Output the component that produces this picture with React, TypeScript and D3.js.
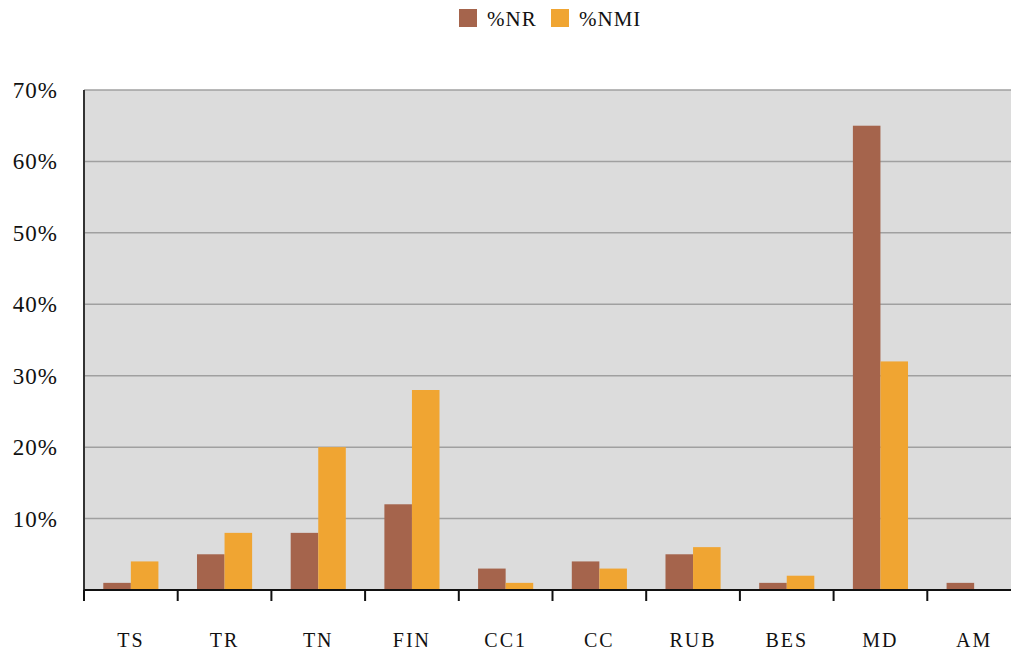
import { useRef, useEffect } from 'react';
import * as d3 from 'd3';

const categories = ['TS', 'TR', 'TN', 'FIN', 'CC1', 'CC', 'RUB', 'BES', 'MD', 'AM'];
const nrValues = [1, 5, 8, 12, 3, 4, 5, 1, 65, 1];
const nmiValues = [4, 8, 20, 28, 1, 3, 6, 2, 32, 0];
const seriesNames = ['%NR', '%NMI'];
const seriesColors = ['#A5644C', '#F0A532'];
const yTicks = [10, 20, 30, 40, 50, 60, 70];

const FONT = '"Liberation Serif", "DejaVu Serif", serif';

const BarChart = () => {
    const svgRef = useRef<SVGSVGElement | null>(null);

    useEffect(() => {
        document.body.style.margin = '0';
        const svgElement = svgRef.current;
        if (!svgElement) return;

        const width = 1011;
        const height = 650;
        const margin = { top: 90, right: -10, bottom: 60, left: 84 };

        const svg = d3.select(svgElement);
        svg.selectAll('*').remove();

        const x = d3.scaleBand<string>()
            .domain(categories)
            .range([margin.left, width - margin.right]);

        const xInner = d3.scaleBand<string>()
            .domain(seriesNames)
            .range([0, x.bandwidth()])
            .paddingInner(0)
            .paddingOuter(0.7);

        const y = d3.scaleLinear()
            .domain([0, 70])
            .range([height - margin.bottom, margin.top]);

        // plot background
        svg.append('rect')
            .attr('x', margin.left)
            .attr('y', margin.top)
            .attr('width', width - margin.right - margin.left)
            .attr('height', y(0) - margin.top)
            .attr('fill', '#DCDCDC');

        // grid lines
        svg.append('g')
            .selectAll('line')
            .data(yTicks)
            .join('line')
            .attr('x1', margin.left)
            .attr('x2', width - margin.right)
            .attr('y1', d => y(d))
            .attr('y2', d => y(d))
            .attr('stroke', '#A0A0A0')
            .attr('stroke-width', 1.5);

        // y labels
        svg.append('g')
            .selectAll('text')
            .data(yTicks)
            .join('text')
            .attr('x', 58)
            .attr('y', d => y(d))
            .attr('dy', '0.35em')
            .attr('text-anchor', 'end')
            .style('font-family', FONT)
            .style('font-size', '23px')
            .style('letter-spacing', '1px')
            .style('fill', '#111')
            .text(d => `${d}%`);

        // bars
        const groups = svg.append('g')
            .selectAll('g')
            .data(categories)
            .join('g')
            .attr('transform', d => `translate(${x(d)},0)`);

        groups.selectAll('rect')
            .data((_, i) => [nrValues[i], nmiValues[i]].map((v, j) => ({ key: seriesNames[j], v, color: seriesColors[j] })))
            .join('rect')
            .attr('x', d => xInner(d.key)!)
            .attr('y', d => y(d.v))
            .attr('width', xInner.bandwidth())
            .attr('height', d => y(0) - y(d.v))
            .attr('fill', d => d.color);

        // left axis line
        svg.append('line')
            .attr('x1', margin.left)
            .attr('x2', margin.left)
            .attr('y1', margin.top)
            .attr('y2', y(0))
            .attr('stroke', '#333')
            .attr('stroke-width', 2);

        // bottom axis
        const xAxis = svg.append('g')
            .attr('transform', `translate(0, ${y(0)})`);

        xAxis.append('line')
            .attr('x1', margin.left)
            .attr('x2', width)
            .attr('stroke', '#111')
            .attr('stroke-width', 2);

        xAxis.selectAll('.tick')
            .data(categories)
            .join('line')
            .attr('class', 'tick')
            .attr('x1', d => x(d)!)
            .attr('x2', d => x(d)!)
            .attr('y1', 0)
            .attr('y2', 11)
            .attr('stroke', '#111')
            .attr('stroke-width', 2);

        xAxis.selectAll('text')
            .data(categories)
            .join('text')
            .attr('x', d => x(d)! + x.bandwidth() / 2)
            .attr('y', 57)
            .attr('text-anchor', 'middle')
            .style('font-family', FONT)
            .style('font-size', '20px')
            .style('letter-spacing', '2px')
            .style('fill', '#111')
            .text(d => d);

        // legend
        const legendX = [459, 551];
        const legend = svg.append('g');
        seriesNames.forEach((name, i) => {
            legend.append('rect')
                .attr('x', legendX[i])
                .attr('y', 9)
                .attr('width', 18)
                .attr('height', 18)
                .attr('fill', seriesColors[i]);
            legend.append('text')
                .attr('x', legendX[i] + 28)
                .attr('y', 26)
                .style('font-family', FONT)
                .style('font-size', '21px')
                .style('letter-spacing', '1px')
                .style('fill', '#111')
                .text(name);
        });
    }, []);

    return (
        <svg ref={svgRef} width={1011} height={650} style={{ display: 'block', background: '#fff' }}></svg>
    );
};

export default function App() {
    return <BarChart />;
}
